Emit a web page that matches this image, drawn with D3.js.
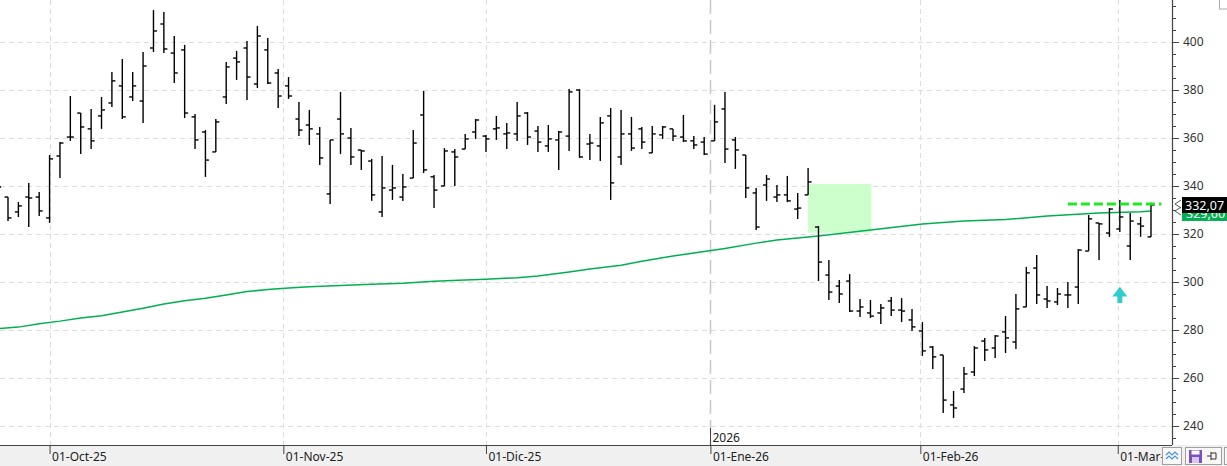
<!DOCTYPE html>
<html>
<head>
<meta charset="utf-8">
<script src="https://cdn.jsdelivr.net/npm/d3@7"></script>
<style>
  html, body { margin: 0; padding: 0; background: #fff; }
  svg { display: block; }
  text { font-family: "Noto Sans", "DejaVu Sans", sans-serif; }
</style>
</head>
<body>
<svg id="chart" width="1227" height="466"></svg>
<script>
// daily OHLC bars, index 0 = first (partly hidden) bar on the left
const opens = [338.0,335.4,329.2,335.4,335.4,326.7,352.5,360.4,370.4,363.8,
  369.2,374.6,381.7,377.1,375.4,397.5,407.5,395.4,396.7,368.8,
  362.5,354.2,377.1,393.3,397.5,382.5,396.7,387.1,381.7,367.9,
  365.4,361.7,336.7,367.9,360.0,355.0,350.4,329.2,338.3,335.4,
  343.3,369.6,343.8,340.0,354.2,355.4,362.5,360.8,363.8,361.7,
  361.7,370.4,362.9,356.7,359.2,360.8,380.0,357.5,356.7,369.2,
  352.1,361.7,363.8,353.8,361.3,363.8,360.4,358.8,358.3,358.8,
  372.1,359.2,352.9,337.1,340.4,335.4,336.3,330.4,336.3,322.9,
  302.9,298.3,300.4,287.9,287.1,287.1,292.1,288.3,284.2,279.6,
  272.9,269.6,248.8,255.4,262.5,275.4,272.5,279.2,275.0,289.6,
  305.8,292.9,291.7,294.6,297.9,312.9,324.6,320.4,322.1,315.0,
  324.2,318.8];
const highs = [342.0,335.4,333.3,341.3,337.5,352.9,358.3,377.5,370.4,372.1,
  377.1,387.5,392.9,387.5,395.8,413.3,412.5,402.5,398.8,370.0,
  363.3,367.9,391.7,396.3,400.4,406.7,401.7,388.8,385.4,375.0,
  371.7,364.6,359.2,379.2,364.2,355.0,351.3,352.5,348.8,345.0,
  363.3,379.6,344.6,355.8,355.4,361.7,367.9,361.3,369.2,366.3,
  375.0,370.8,365.0,365.4,362.9,380.4,380.4,361.7,368.8,372.5,
  371.7,368.8,364.6,365.0,365.0,363.8,369.6,360.8,360.4,373.8,
  379.2,360.4,352.9,339.2,344.6,340.4,344.2,337.1,347.5,323.3,
  309.2,300.8,303.3,292.9,292.5,290.8,293.8,293.3,288.8,283.3,
  273.3,269.6,254.6,264.6,273.3,276.7,277.9,285.8,295.0,306.3,
  311.3,298.3,297.5,300.0,313.8,327.9,324.6,330.8,334.2,328.8,
  327.1,333.0];
const lows = [333.0,325.4,327.1,322.9,327.5,324.6,343.3,358.8,353.3,355.4,
  363.8,372.9,367.9,375.4,366.3,395.8,395.4,382.9,368.3,355.4,
  343.8,354.2,374.2,384.2,375.8,380.8,382.5,372.5,376.3,360.8,
  357.1,348.8,332.5,353.3,348.8,346.7,333.8,327.1,334.2,333.8,
  343.3,345.4,330.8,340.0,340.0,355.4,359.6,354.2,359.2,355.4,
  358.8,357.1,354.2,354.2,346.7,354.6,351.7,350.8,350.4,334.2,
  348.8,354.6,355.4,353.8,359.6,358.8,358.3,355.4,352.9,358.8,
  349.6,347.1,335.0,321.7,333.8,333.3,333.3,326.3,336.3,300.4,
  292.5,291.3,287.5,285.4,285.0,282.5,285.8,283.3,279.6,269.2,
  263.8,245.4,243.3,253.8,260.8,267.1,268.3,270.4,272.1,289.6,
  290.8,289.2,290.4,289.2,290.8,312.9,309.2,318.8,320.8,309.2,
  318.8,318.8];
const closes = [339.6,326.7,331.7,335.0,329.6,351.3,357.9,360.4,364.6,358.8,
  371.7,383.8,368.8,381.7,390.0,404.6,397.1,387.1,370.4,359.2,
  350.8,366.7,389.6,391.7,385.4,402.5,382.9,377.5,377.5,363.3,
  363.8,351.7,359.2,361.7,352.1,354.6,336.3,339.2,339.2,339.6,
  357.9,346.7,338.3,354.6,352.1,359.6,367.5,359.6,364.2,362.1,
  369.2,360.4,358.3,359.6,362.5,379.2,352.1,357.9,366.3,341.3,
  361.7,355.8,358.3,361.7,364.6,360.8,358.8,357.1,353.3,366.7,
  355.4,355.0,339.2,322.9,342.9,336.3,333.8,330.8,341.7,308.3,
  295.8,295.0,287.9,289.6,285.8,289.2,288.3,287.9,281.3,271.3,
  268.8,250.8,247.5,261.7,272.5,271.7,277.5,276.7,288.8,303.8,
  294.6,292.1,295.0,294.6,313.3,326.3,324.2,330.4,327.1,325.4,
  323.3,332.07];

// moving average read at these bar positions
const maBars = [0,2,4,6,8,10,12,14,16,18,20,22,24,26,28,30,33,36,39,42,45,47,50,52,
  55,57,60,62,65,68,70,73,75,79,84,89,93,97,101,106,110,111];
const maValues = [280.6,281.2,282.6,283.7,285.0,285.9,287.5,289.1,290.8,292.2,293.2,
  294.6,296.0,296.9,297.5,298.0,298.5,299.1,299.5,300.3,300.8,301.1,301.8,302.5,
  304.2,305.4,307.0,308.6,310.8,312.7,314.0,316.2,317.5,319.2,321.7,324.2,325.4,
  326.0,327.5,328.8,329.3,329.6];

// date axis
const tickBars = [5, 27.5, 47, 68.6, 88.8, 107.8];
const tickLabels = ["01-Oct-25", "01-Nov-25", "01-Dic-25", "01-Ene-26", "01-Feb-26", "01-Mar-26"];
const yearBar = 68.6;
const yearLabel = "2026";

// price axis
const priceTicks = [240, 260, 280, 300, 320, 340, 360, 380, 400];

// annotations
const zoneBars = [78, 84.1];
const zonePrices = [320.5, 340.8];
const resistBars = [103, 112];
const resistLevel = 332.5;
const arrowBar = 108;
const arrowPrices = [298, 291.2];
const lastPrice = 332.07;

const W = 1227, H = 466;
const plotR = 1172, plotB = 445;

const svg = d3.select("#chart");

const x = d3.scaleLinear().domain([1, 111]).range([8, 1151]);
const y = d3.scaleLinear().domain([240, 400]).range([426, 42]);

const fmt = v => d3.format(".2f")(v).replace(".", ",");

// bottom strip
svg.append("rect").attr("x", 0).attr("y", plotB).attr("width", W).attr("height", H - plotB)
  .attr("fill", "#f0f0f0");

const plot = svg.append("g");
plot.append("clipPath").attr("id", "clip")
  .append("rect").attr("x", 0).attr("y", 0).attr("width", plotR).attr("height", plotB);
const inner = plot.append("g").attr("clip-path", "url(#clip)");

// grid
inner.selectAll(".hgrid").data(priceTicks).join("line")
  .attr("x1", 0).attr("x2", plotR)
  .attr("y1", d => Math.round(y(d)) + 0.5).attr("y2", d => Math.round(y(d)) + 0.5)
  .attr("stroke", "#dcdcdc").attr("stroke-dasharray", "5,4");

inner.selectAll(".vgrid").data(tickBars.filter(d => d !== yearBar)).join("line")
  .attr("x1", d => Math.round(x(d)) + 0.5).attr("x2", d => Math.round(x(d)) + 0.5)
  .attr("y1", 0).attr("y2", plotB)
  .attr("stroke", "#dcdcdc").attr("stroke-dasharray", "5,4");

inner.append("line")
  .attr("x1", Math.round(x(yearBar)) + 0.5).attr("x2", Math.round(x(yearBar)) + 0.5)
  .attr("y1", 0).attr("y2", plotB)
  .attr("stroke", "#c8c8c8").attr("stroke-width", 1.5).attr("stroke-dasharray", "14,6");

// green zone
inner.append("rect")
  .attr("x", x(zoneBars[0])).attr("width", x(zoneBars[1]) - x(zoneBars[0]))
  .attr("y", y(zonePrices[1])).attr("height", y(zonePrices[0]) - y(zonePrices[1]))
  .attr("fill", "#ccffcc");

// moving average
const ma = maBars.map((b, i) => [b, maValues[i]]);
inner.append("path").datum(ma)
  .attr("fill", "none").attr("stroke", "#00b050").attr("stroke-width", 1.5)
  .attr("d", d3.line().x(d => x(d[0])).y(d => y(d[1])));

// OHLC bars
const bars = opens.map((o, i) => ({ i, o, h: highs[i], l: lows[i], c: closes[i] }));
const bar = inner.selectAll(".bar").data(bars).join("g").attr("class", "bar")
  .attr("stroke", "#000").attr("stroke-width", 1.4);
bar.append("line")
  .attr("x1", d => x(d.i)).attr("x2", d => x(d.i))
  .attr("y1", d => y(d.h)).attr("y2", d => y(d.l));
bar.append("line")
  .attr("x1", d => x(d.i) - 3.5).attr("x2", d => x(d.i))
  .attr("y1", d => y(d.o)).attr("y2", d => y(d.o));
bar.append("line")
  .attr("x1", d => x(d.i)).attr("x2", d => x(d.i) + 3.5)
  .attr("y1", d => y(d.c)).attr("y2", d => y(d.c));

// resistance dashed line
inner.append("line")
  .attr("x1", x(resistBars[0])).attr("x2", x(resistBars[1]))
  .attr("y1", y(resistLevel)).attr("y2", y(resistLevel))
  .attr("stroke", "#22e622").attr("stroke-width", 3).attr("stroke-dasharray", "9,4");

// cyan arrow
const ax = x(arrowBar), ay0 = y(arrowPrices[0]), ay1 = y(arrowPrices[1]);
const headB = ay0 + (ay1 - ay0) * 0.6;
inner.append("path")
  .attr("d", `M${ax},${ay0} L${ax + 7.5},${headB} L${ax + 2.5},${headB} L${ax + 2.5},${ay1}
    L${ax - 2.5},${ay1} L${ax - 2.5},${headB} L${ax - 7.5},${headB} Z`)
  .attr("fill", "#33cccc");

// right price axis
const yAxis = d3.axisRight(y).tickValues(priceTicks).tickSize(7).tickSizeOuter(0)
  .tickFormat(d3.format("d"));
const ya = svg.append("g").attr("transform", `translate(${plotR},0)`).call(yAxis);
ya.select(".domain").remove();
ya.selectAll(".tick line").attr("stroke", "#444");
ya.selectAll(".tick text").attr("x", 11).attr("fill", "#333")
  .style("font-size", "12px").style("font-family", "'Noto Sans', sans-serif");

const minor = d3.range(230, 416, 5).filter(v => v % 20 !== 0);
svg.append("g").selectAll("line").data(minor).join("line")
  .attr("x1", plotR).attr("x2", plotR + 4)
  .attr("y1", d => Math.round(y(d)) + 0.5).attr("y2", d => Math.round(y(d)) + 0.5)
  .attr("stroke", "#444");

svg.append("line").attr("x1", plotR + 0.5).attr("x2", plotR + 0.5)
  .attr("y1", 0).attr("y2", plotB).attr("stroke", "#444").attr("stroke-width", 1.2);

// bottom date axis
const xAxis = d3.axisBottom(x).tickValues(tickBars).tickSize(9).tickSizeOuter(0)
  .tickFormat((d, i) => tickLabels[i]);
const xa = svg.append("g").attr("transform", `translate(0,${plotB})`).call(xAxis);
xa.select(".domain").remove();
xa.selectAll(".tick line").attr("stroke", "#444");
xa.selectAll(".tick text").attr("text-anchor", "start").attr("x", 2).attr("y", 7)
  .attr("fill", "#222").style("font-size", "12px").style("font-family", "'Noto Sans', sans-serif");

svg.append("line").attr("x1", 0).attr("x2", plotR).attr("y1", plotB + 0.5).attr("y2", plotB + 0.5)
  .attr("stroke", "#444").attr("stroke-width", 1.2);

// year marker
svg.append("line")
  .attr("x1", Math.round(x(yearBar)) + 0.5).attr("x2", Math.round(x(yearBar)) + 0.5)
  .attr("y1", 428).attr("y2", plotB).attr("stroke", "#444");
svg.append("text").attr("x", x(yearBar) + 2).attr("y", 442)
  .attr("fill", "#222").style("font-size", "12px").text(yearLabel);

// last-value labels
const maLast = maValues[maValues.length - 1];
svg.append("rect").attr("x", 1182).attr("y", y(maLast) - 6).attr("width", 45).attr("height", 16)
  .attr("fill", "#00b050");
svg.append("text").attr("x", 1186).attr("y", y(maLast) + 7).attr("fill", "#fff")
  .style("font-size", "12.5px").text(fmt(maLast));
svg.append("rect").attr("x", 1182).attr("y", y(lastPrice) - 8).attr("width", 45).attr("height", 16)
  .attr("fill", "#000");
svg.append("text").attr("x", 1185).attr("y", y(lastPrice) + 4.5).attr("fill", "#fff")
  .style("font-size", "12.5px").text(fmt(lastPrice));

// marker chevrons
const cy = y(lastPrice);
svg.append("path")
  .attr("d", `M1181,${cy - 5} L1175,${cy - 1} L1181,${cy + 3} M1181,${cy + 2} L1175,${cy + 6} L1181,${cy + 10}`)
  .attr("fill", "none").attr("stroke", "#555");

// small toolbar bits
svg.append("rect").attr("x", 1219.5).attr("y", -1).attr("width", 9).attr("height", 10)
  .attr("fill", "#fff").attr("stroke", "#aaa");

const tb = svg.append("g");
tb.append("rect").attr("x", 1162.5).attr("y", 447.5).attr("width", 19).attr("height", 17)
  .attr("fill", "#f7f7f7").attr("stroke", "#a0a0a0");
tb.append("path").attr("d", "M1166,455 L1169,452 L1172,455 L1175,452 L1178,455 M1166,459 L1169,456 L1172,459 L1175,456 L1178,459")
  .attr("fill", "none").attr("stroke", "#4a90d9").attr("stroke-width", 1.2);
tb.append("rect").attr("x", 1185.5).attr("y", 447.5).attr("width", 36).attr("height", 17)
  .attr("fill", "#f7f7f7").attr("stroke", "#a0a0a0");
tb.append("rect").attr("x", 1189).attr("y", 450).attr("width", 13).attr("height", 13).attr("fill", "#7a50c0");
tb.append("rect").attr("x", 1191.5).attr("y", 450.5).attr("width", 8).attr("height", 4).attr("fill", "#fff");
tb.append("rect").attr("x", 1192).attr("y", 457).attr("width", 7).attr("height", 6).attr("fill", "#d8c8f0");
tb.append("path").attr("d", "M1207,456 L1211,456 M1211,452 L1211,460 M1211,453 L1216,453 L1216,459 L1211,459")
  .attr("fill", "none").attr("stroke", "#333");
tb.append("rect").attr("x", 1224.5).attr("y", 447.5).attr("width", 6).attr("height", 17)
  .attr("fill", "#f7f7f7").attr("stroke", "#a0a0a0");
</script>
</body>
</html>
